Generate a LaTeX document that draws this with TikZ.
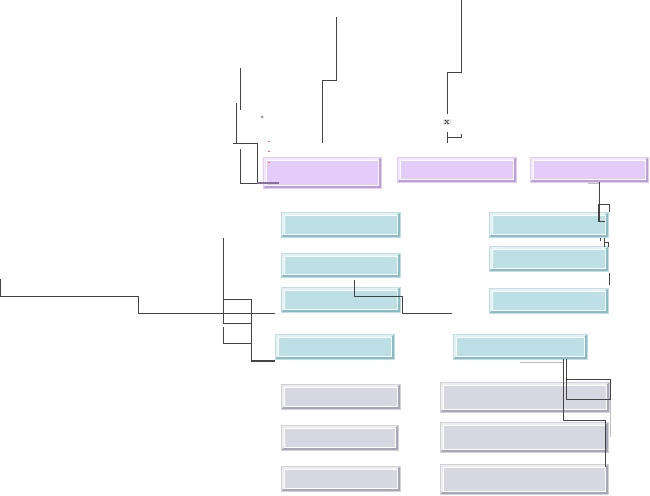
\documentclass[tikz,border=0pt]{standalone}
\usetikzlibrary{fit}

\definecolor{lilacfill}{HTML}{E4CCFA}
\definecolor{lilacedge}{HTML}{BE9EDC}
\definecolor{tealfill}{HTML}{BDE0E6}
\definecolor{tealedge}{HTML}{86BDC7}
\definecolor{slatefill}{HTML}{D7D7E1}
\definecolor{slateedge}{HTML}{A6A6B6}
\definecolor{wiregrey}{HTML}{444444}

\tikzset{
  bevel/.style 2 args={inner sep=0pt, fill=#2, draw=white!50!#2, line width=0.5pt,
    path picture={
      \coordinate (bnw) at (path picture bounding box.north west);
      \coordinate (bse) at (path picture bounding box.south east);
      \fill[white!55!#1] (bnw) -- (bnw -| bse) -- ([shift={(-2.2pt,-2.2pt)}]bnw -| bse)
        -- ([shift={(2.2pt,-2.2pt)}]bnw) -- ([shift={(2.2pt,2.2pt)}]bnw |- bse)
        -- (bnw |- bse) -- cycle;
      \fill[#1, draw=white, line width=0.6pt]
        ([shift={(2.2pt,-2.2pt)}]bnw) rectangle ([shift={(-2.2pt,2.2pt)}]bse);}},
  lilacbox/.style={bevel={lilacfill}{lilacedge}},
  tealbox/.style={bevel={tealfill}{tealedge}},
  slatebox/.style={bevel={slatefill}{slateedge}},
  wire/.style={draw=wiregrey, line width=0.75pt},
  faint/.style={draw=black!25, line width=0.6pt},
}
% box from pixel corners
\newcommand\bbox[6]{\node[#6, fit={(#2,#3) (#4,#5)}] (#1) {};}

\begin{document}
\begin{tikzpicture}[x=0.75pt, y=-0.75pt]
  \useasboundingbox (0,0) rectangle (650,496);

  % top row
  \bbox{ptop1}{263}{157}{381}{188}{lilacbox}
  \bbox{ptop2}{397}{157}{516}{182}{lilacbox}
  \bbox{ptop3}{530}{157}{648}{182}{lilacbox}
  % middle left
  \bbox{tleft1}{281}{212}{400}{237}{tealbox}
  \bbox{tleft2}{281}{253}{400}{277}{tealbox}
  \bbox{tleft3}{281}{287}{400}{312}{tealbox}
  \bbox{tleft4}{275}{334}{394}{359}{tealbox}
  % middle right
  \bbox{tright1}{489}{212}{608}{237}{tealbox}
  \bbox{tright2}{489}{246}{608}{271}{tealbox}
  \bbox{tright3}{489}{288}{608}{313}{tealbox}
  \bbox{tright4}{453}{334}{587}{359}{tealbox}
  % bottom
  \bbox{sleft1}{281}{384}{400}{409}{slatebox}
  \bbox{sleft2}{281}{425}{398}{450}{slatebox}
  \bbox{sleft3}{281}{466}{400}{491}{slatebox}
  \bbox{sright1}{440}{382}{609}{412}{slatebox}
  \bbox{sright2}{440}{422}{608}{452}{slatebox}
  \bbox{sright3}{440}{464}{608}{494}{slatebox}

  % lines above the top row
  \draw[wire] (336,17) -- (336,80) -- (322,80) -- (322,143);
  \draw[wire] (461,0) -- (461,72) -- (447,72) -- (447,114);
  \node[fill=black!10, inner sep=0.6pt, font=\scriptsize] (xmark) at (447,122) {x};
  \draw[wire] (447,132) -- (447,143);
  \draw[wire] (447,137) -- (461,137) -- (461,134);
  \draw[wire] (240,68) -- (240,110);
  \draw[wire] (236,103) -- (236,143);
  \draw[wire] (233,143) -- (257,143) -- (257,183);
  \draw[wire] (240,149) -- (240,183) -- (257,183);
  \draw[draw=lilacedge!70!black, line width=1.4pt] (257,183) -- (279,183);
  \fill[black!40] (262,117) circle (1.5);
  \foreach \ty in {141,151,162}
    \draw[red!60, line width=0.5pt] (268,\ty) -- (270,\ty);

  % lines at the right edge
  \draw[faint] (588,183) -- (599,183);
  \draw[wire] (ptop3.south -| 599,0) -- (599,221);
  \draw[wire] (598,204) -- (609,204) -- (609,212);
  \draw[wire] (598,204) -- (598,221) -- (605,221);
  \draw[wire] (600,238) -- (600,241);
  \draw[wire] (604,238) -- (604,247);
  \draw[wire] (604,242) -- (608,242) -- (608,247);
  \draw[wire] (609,273) -- (609,285);

  % lines on the left
  \draw[wire] (0,279) -- (0,296) -- (138,296) -- (138,313) -- (275,313);
  \draw[wire] (223,238) -- (223,323);
  \draw[wire] (223,327) -- (223,343);
  \draw[wire] (223,299) -- (251,299);
  \draw[wire] (223,323) -- (251,323);
  \draw[wire] (223,343) -- (251,343);
  \draw[wire] (251,299) -- (251,361);
  \draw[wire, line width=1.2pt] (251,361) -- (tleft4.south west |- 0,361);

  % between the teal boxes
  \draw[wire] (354,280) -- (354,296) -- (402,296) -- (402,313) -- (452,313);

  % below the wide teal box
  \draw[faint] (520,362) -- (563,362);
  \draw[wire] (tright4.south -| 563,0) -- (563,420) -- (605,420) -- (605,467);
  \draw[wire] (tright4.south -| 566,0) -- (566,399);
  \draw[wire] (566,379) -- (610,379) -- (610,400);
  \draw[wire] (566,399) -- (610,399);
  \draw[faint] (610,400) -- (610,437);
\end{tikzpicture}
\end{document}
